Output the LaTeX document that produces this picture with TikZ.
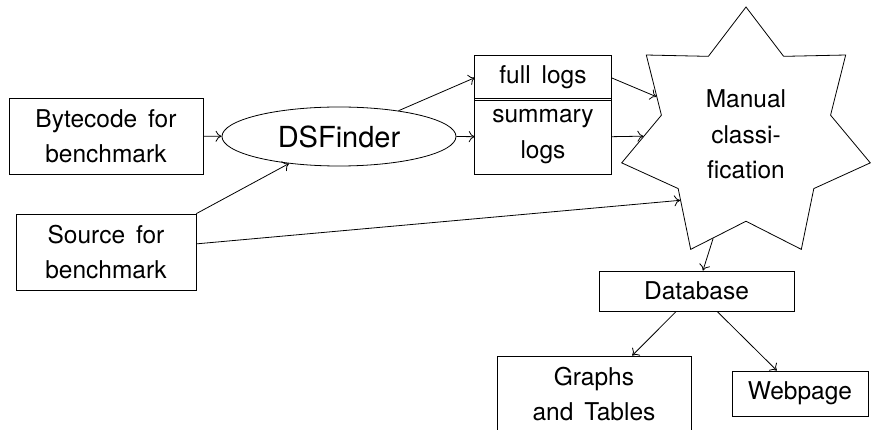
\documentclass[tikz,border=0pt]{standalone}
\usepackage{fontspec}
\setmainfont[WordSpace=1.6]{TeX Gyre Heros}
\usetikzlibrary{shapes.geometric,arrows.meta}

\begin{document}
\begin{tikzpicture}[x=1pt,y=1pt,yscale=-1,
  every node/.style={font=\fontsize{24.5}{35.5}\selectfont, inner sep=0pt, align=center},
  box/.style={draw, line width=0.8pt, minimum width=#1},
  conn/.style={->, line width=0.8pt},
  >={To[length=6pt,width=11pt]}]
\useasboundingbox (0,0) rectangle (871,430);
\node [box=194pt, minimum height=76pt] (byte) at (106,136) {Bytecode for\\benchmark};
\node [box=180pt, minimum height=76pt] (src) at (106,252) {Source for\\benchmark};
\node [draw, ellipse, line width=0.8pt, minimum width=234pt, minimum height=59pt, font=\fontsize{29}{35}\selectfont] (dsf) at (339,136.5) {DSFinder};
\node [minimum width=136pt, minimum height=43.4pt] (full) at (543,77.7) {full logs};
\node [minimum width=136pt, minimum height=74.6pt] (summary) at (543,136.7) {summary\\logs};
\draw [line width=0.8pt] (full.north west) rectangle (summary.south east);
\draw [line width=0.8pt, double, double distance=1.6pt] (full.south west) -- (full.south east);
\node [draw, star, star points=7, star point ratio=1.47, minimum size=255pt, line width=0.8pt] (manual) at (746,134.5) {Manual\\classi-\\fication};
\node [box=195pt, minimum height=40pt] (db) at (696.5,291) {Database};
\node [box=194pt, minimum height=76pt] (graphs) at (594,394) {Graphs\\and Tables};
\node [box=136pt, minimum height=45pt] (web) at (800,393.5) {Webpage};
\draw [conn] (byte) -- (dsf);
\draw [conn] (src.north east) -- (dsf);
\draw [conn] (dsf) -- (full.west);
\draw [conn] (dsf.east) -- (summary.west);
\draw [conn] (full.east) -- (manual);
\draw [conn] (summary.east) -- (manual);
\draw [conn] (src) -- (manual.south west);
\draw [conn] (manual) -- (db);
\draw [conn] (db) -- (graphs);
\draw [conn] (db) -- (web);
\end{tikzpicture}
\end{document}
